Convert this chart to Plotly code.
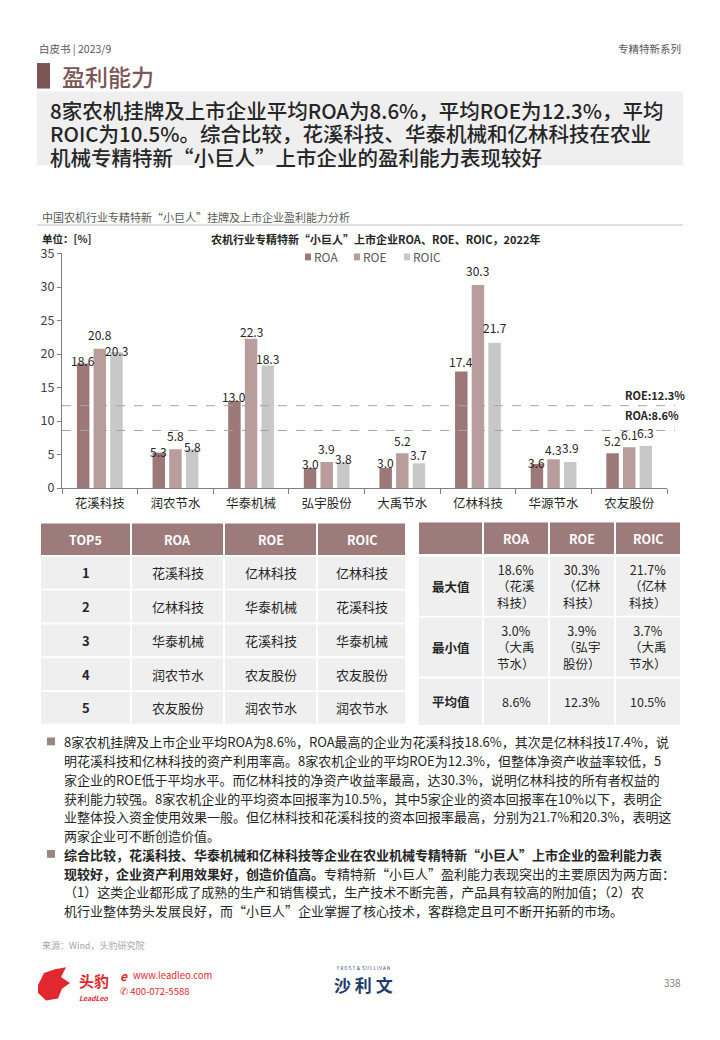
import plotly.graph_objects as go

W, H = 720, 1040
FONT = "Noto Sans CJK SC"

# ---------------- data ----------------
companies = ["花溪科技", "润农节水", "华泰机械", "弘宇股份", "大禹节水", "亿林科技", "华源节水", "农友股份"]
roa = [18.6, 5.3, 13.0, 3.0, 3.0, 17.4, 3.6, 5.2]
roe = [20.8, 5.8, 22.3, 3.9, 5.2, 30.3, 4.3, 6.1]
roic = [20.3, 5.8, 18.3, 3.8, 3.7, 21.7, 3.9, 6.3]
series_names = ["ROA", "ROE", "ROIC"]
series_colors = ["#9D7878", "#B99C9C", "#C8C8C8"]
avg_names = ["ROE", "ROA"]
avg_values = [12.3, 8.6]
y_ticks = [0, 5, 10, 15, 20, 25, 30, 35]

# how far (px) each value label sits above its bar top, as placed in the reference
roa_label_lift = [3, 2, 5, 5, 6, 10, 2, 13]
roe_label_lift = [15, 14, 8, 14, 13, 15, 10, 13]
roic_label_lift = [2, 3, 7, 5, 9, 16, 15, 14]

top5_header = ["TOP5", "ROA", "ROE", "ROIC"]
top5_rank = ["1", "2", "3", "4", "5"]
top5_roa = ["花溪科技", "亿林科技", "华泰机械", "润农节水", "农友股份"]
top5_roe = ["亿林科技", "华泰机械", "花溪科技", "农友股份", "润农节水"]
top5_roic = ["亿林科技", "花溪科技", "华泰机械", "农友股份", "润农节水"]

stat_header = ["", "ROA", "ROE", "ROIC"]
stat_rows = ["最大值", "最小值", "平均值"]
stat_roa = ["18.6%<br>（花溪<br>科技）", "3.0%<br>（大禹<br>节水）", "8.6%"]
stat_roe = ["30.3%<br>（亿林<br>科技）", "3.9%<br>（弘宇<br>股份）", "12.3%"]
stat_roic = ["21.7%<br>（亿林<br>科技）", "3.7%<br>（大禹<br>节水）", "10.5%"]

headline_lines = [
    "8家农机挂牌及上市企业平均ROA为8.6%，平均ROE为12.3%，平均",
    "ROIC为10.5%。综合比较，花溪科技、华泰机械和亿林科技在农业",
    "机械专精特新“小巨人”上市企业的盈利能力表现较好",
]
para_lines = [
    "8家农机挂牌及上市企业平均ROA为8.6%，ROA最高的企业为花溪科技18.6%，其次是亿林科技17.4%，说",
    "明花溪科技和亿林科技的资产利用率高。8家农机企业的平均ROE为12.3%，但整体净资产收益率较低，5",
    "家企业的ROE低于平均水平。而亿林科技的净资产收益率最高，达30.3%，说明亿林科技的所有者权益的",
    "获利能力较强。8家农机企业的平均资本回报率为10.5%，其中5家企业的资本回报率在10%以下，表明企",
    "业整体投入资金使用效果一般。但亿林科技和花溪科技的资本回报率最高，分别为21.7%和20.3%，表明这",
    "两家企业可不断创造价值。",
    "<b>综合比较，花溪科技、华泰机械和亿林科技等企业在农业机械专精特新“小巨人”上市企业的盈利能力表</b>",
    "<b>现较好，企业资产利用效果好，创造价值高。</b>专精特新“小巨人”盈利能力表现突出的主要原因为两方面：",
    "（1）这类企业都形成了成熟的生产和销售模式，生产技术不断完善，产品具有较高的附加值；（2）农",
    "机行业整体势头发展良好，而“小巨人”企业掌握了核心技术，客群稳定且可不断开拓新的市场。",
]
bullet_line_index = [0, 6]


def px(x):
    return x / W


def py(y):
    return 1 - y / H


fig = go.Figure()
annotations = []
shapes = []


def text(x, y, s, size=12, color="#262626", xanchor="left", weight=None, yanchor="middle",
         align="left", box_h=None):
    f = dict(family=FONT, size=size, color=color)
    if weight is not None:
        f["weight"] = weight
    a = dict(x=px(x), y=py(y), xref="paper", yref="paper", text=s, showarrow=False,
             xanchor=xanchor, yanchor=yanchor, font=f, align=align)
    if box_h is not None:
        a["height"] = box_h
        a["borderpad"] = 0
        a["valign"] = "middle"
    annotations.append(a)


def rect(x0, y0, x1, y1, color, layer="below"):
    shapes.append(dict(type="rect", xref="paper", yref="paper", x0=px(x0), x1=px(x1), y0=py(y1), y1=py(y0),
                       fillcolor=color, line=dict(width=0), layer=layer))


# ---------------- header ----------------
text(37, 38, "白皮书 | 2023/9", 10.5, "#595959")
text(683, 38, "专精特新系列", 10.5, "#595959", xanchor="right")
rect(37, 53, 50, 79, "#7D5555")
text(60, 66, "盈利能力", 23, "#7D5555", weight=500)
rect(37, 82, 683, 157, "#EFEFEF")
for i, ln in enumerate(headline_lines):
    text(49, 100 + i * 24, ln, 20.5, "#262626", weight=500, box_h=23)

text(40, 210, "中国农机行业专精特新“小巨人”挂牌及上市企业盈利能力分析", 11, "#595959")
shapes.append(dict(type="line", xref="paper", yref="paper", x0=px(37), x1=px(683), y0=py(218), y1=py(218),
                   line=dict(color="#BFBFBF", width=1)))

# ---------------- chart ----------------
text(40, 232, "<b>单位：[%]</b>", 10.5, "#262626")
text(375, 232, "<b>农机行业专精特新“小巨人”上市企业ROA、ROE、ROIC，2022年</b>", 11, "#262626", xanchor="center")

legend_x = [305, 354, 404]
for name, col, lx in zip(series_names, series_colors, legend_x):
    rect(lx, 247, lx + 6, 254, col)
    text(lx + 7, 250.5, name, 12, "#595959")

BARGAP = 0.34
plot_x0, plot_x1 = 62, 667
slot = (plot_x1 - plot_x0) / len(companies) * (1 - BARGAP) / len(series_names)

all_vals = [roa, roe, roic]
all_lifts = [roa_label_lift, roe_label_lift, roic_label_lift]
for k, (name, vals, col, lifts) in enumerate(zip(series_names, all_vals, series_colors, all_lifts)):
    fig.add_trace(go.Bar(
        x=companies, y=vals, name=name, marker=dict(color=col, line=dict(width=0)),
        showlegend=False, hoverinfo="x+y+name",
    ))
    for c, v, lift in zip(companies, vals, lifts):
        annotations.append(dict(x=c, y=v, xref="x", yref="y", text=f"{v:.1f}", showarrow=False,
                                xshift=(k - 1) * slot, yshift=lift, xanchor="center", yanchor="middle",
                                height=14, borderpad=0,
                                font=dict(family=FONT, size=12, color="#262626")))

for nm, v, dy in zip(avg_names, avg_values, [11, 15]):
    shapes.append(dict(type="line", xref="paper", yref="y", x0=px(62), x1=px(675), y0=v, y1=v,
                       line=dict(color="#A6A6A6", width=1, dash="dash")))
    annotations.append(dict(x=px(623), y=v, xref="paper", yref="y", yshift=dy, text=f"<b>{nm}:{v}%</b>",
                            showarrow=False, xanchor="left", yanchor="middle",
                            font=dict(family=FONT, size=11, color="#262626")))

# ---------------- tables (cells drawn as shapes, text from the lists) ----------------
cell_fill = "#EFEFEF"
head_fill = "#9E7B7B"


def draw_table(col_edges, header_y, row_edges, header, columns, font_size, first_bold=True):
    for j, h in enumerate(header):
        x0, x1 = col_edges[j] + 1, col_edges[j + 1] - 1
        rect(x0, header_y[0], x1, header_y[1], head_fill)
        if h:
            text((x0 + x1) / 2, (header_y[0] + header_y[1]) / 2, f"<b>{h}</b>", 12.5, "white",
                 xanchor="center", align="center")
    for j, col in enumerate(columns):
        x0, x1 = col_edges[j] + 1, col_edges[j + 1] - 1
        for i, val in enumerate(col):
            y0, y1 = row_edges[i]
            rect(x0, y0, x1, y1, cell_fill)
            s = f"<b>{val}</b>" if (j == 0 and first_bold) else val
            text((x0 + x1) / 2, (y0 + y1) / 2, s, font_size, "#262626", xanchor="center", align="center")


left_rows = [(556 + i * 34.4, 556 + i * 34.4 + 32.5) for i in range(len(top5_rank))]
draw_table([40, 131, 224, 317, 406], (522, 554), left_rows, top5_header,
           [top5_rank, top5_roa, top5_roe, top5_roic], 13)

right_rows = [(556, 616), (618, 678), (680, 727)]
draw_table([418, 483, 549, 615, 681], (521, 553), right_rows, stat_header,
           [stat_rows, stat_roa, stat_roe, stat_roic], 12.5)

# ---------------- paragraphs ----------------
for i, ln in enumerate(para_lines):
    y = 744 + i * 19.1
    if i in bullet_line_index:
        rect(47, y - 4, 55, y + 4, "#9B8585")
    text(63, y, ln, 13, "#262626", box_h=18)

# ---------------- footer ----------------
text(40, 952, "来源：Wind，头豹研究院", 9, "#A6A6A6")
shapes.append(dict(type="path", xref="paper", yref="paper",
                   path=" ".join([
                       f"M {px(38)},{py(992)}", f"L {px(44)},{py(980)}", f"L {px(55)},{py(976)}",
                       f"L {px(66)},{py(974)}", f"L {px(61)},{py(984)}", f"L {px(70)},{py(990)}",
                       f"L {px(62)},{py(996)}", f"L {px(58)},{py(1006)}", f"L {px(46)},{py(1008)}",
                       f"L {px(38)},{py(1000)}", "Z"]),
                   fillcolor="#E0282E", line=dict(width=0)))
text(77, 988, "<b>头豹</b>", 15, "#E0282E")
text(77, 1005, "<i><b>LeadLeo</b></i>", 7, "#E0282E")
text(118, 982, "<b><i>e</i></b>", 12, "#E0282E")
text(131, 982, "www.leadleo.com", 9.5, "#E0282E")
text(118, 998, "✆ 400-072-5588", 9.5, "#E0282E")
text(363, 975, "F R O S T  &amp;  S U L L I V A N", 4.5, "#1F3B6B", xanchor="center")
text(363, 992, "<b>沙 利 文</b>", 17, "#1F3B6B", xanchor="center")
text(683, 990, "338", 10, "#7F7F7F", xanchor="right")

fig.update_layout(
    width=W, height=H, margin=dict(l=0, r=0, t=0, b=0),
    paper_bgcolor="white", plot_bgcolor="rgba(0,0,0,0)",
    barmode="group", bargap=BARGAP, bargroupgap=0.25,
    font=dict(family=FONT, color="#262626"),
    annotations=annotations, shapes=shapes,
    xaxis=dict(domain=[px(plot_x0), px(plot_x1)], type="category", tickson="boundaries", ticks="outside",
               ticklen=5, tickcolor="#7F7F7F", showline=True, linecolor="#7F7F7F", linewidth=1,
               ticklabelstandoff=4,
               tickfont=dict(family=FONT, size=12.5, color="#262626"), showgrid=False, fixedrange=True),
    yaxis=dict(domain=[py(486), py(247)], range=[0, 35], tickvals=y_ticks, ticks="outside", ticklen=4,
               tickcolor="#7F7F7F", showline=True, linecolor="#7F7F7F", linewidth=1, showgrid=False,
               zeroline=False, tickfont=dict(family=FONT, size=12.5, color="#404040"), fixedrange=True),
)

fig.write_html("out.html", config={"displayModeBar": False},
               post_script="document.body.style.margin='0px';")
